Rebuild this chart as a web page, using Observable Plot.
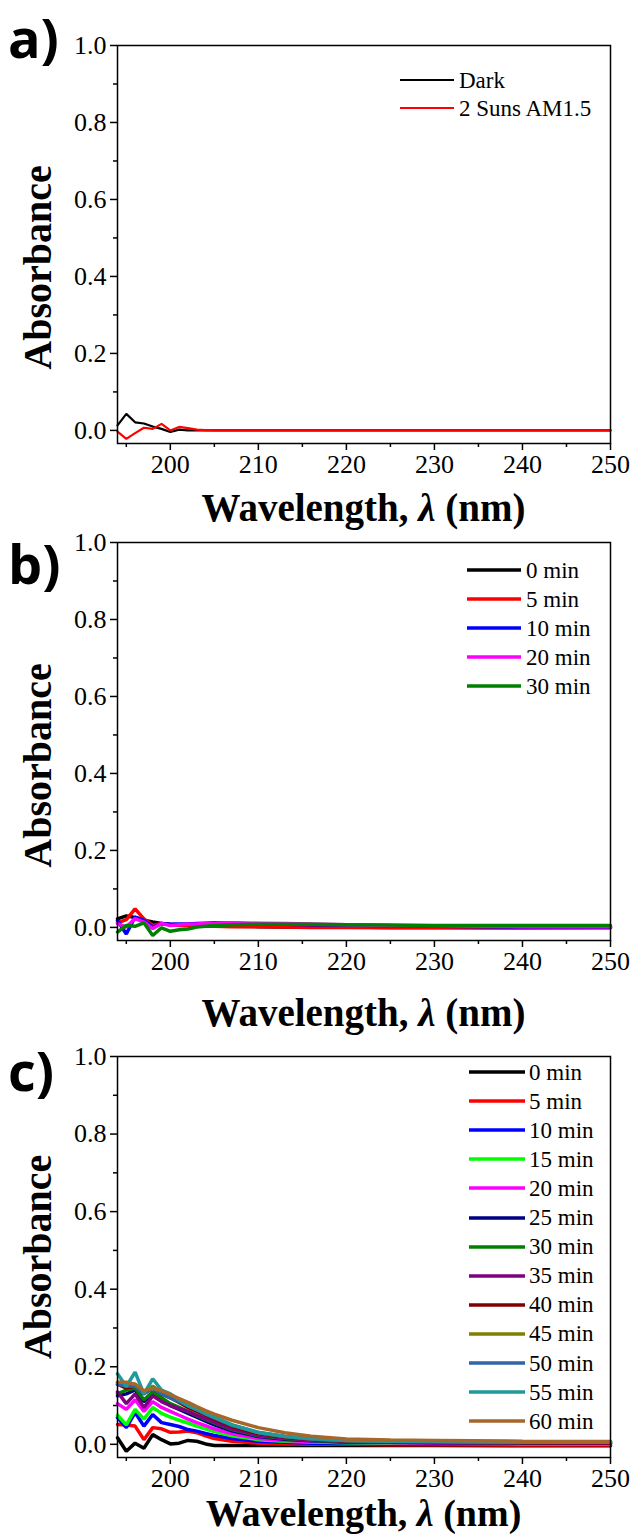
<!DOCTYPE html>
<html>
<head>
<meta charset="utf-8">
<script src="https://cdn.jsdelivr.net/npm/d3@7"></script>
<script src="https://cdn.jsdelivr.net/npm/@observablehq/plot@0.6"></script>
<style>
  body { margin: 0; background: white; }
  #wrap { position: relative; width: 632px; height: 1537px; overflow: hidden; background: white; }
  .abs { position: absolute; }
  .letter { font-family: "Open Sans", "Noto Sans", sans-serif; font-weight: 700; font-size: 54px; line-height: normal; color: black; }
  .xtitle { font-family: "Liberation Serif", "Times New Roman", serif; font-weight: 700; font-size: 39px; line-height: 1; text-align: center; color: black; white-space: nowrap; }
  .leg { font-family: "Liberation Serif", "Times New Roman", serif; font-size: 23px; line-height: 1; color: black; display: flex; align-items: center; white-space: nowrap; }
</style>
</head>
<body>
<div id="wrap"></div>
<script>
// ---------- data ----------
const wavelengths = [194,195,196,197,198,199,200,201,202,203,204,205,207,210,213,216,220,225,230,240,250];
const xMajorTicks = [200,210,220,230,240,250];
const xMinorTicks = [195,205,215,225,235,245];
const yMajorTicks = [0,0.2,0.4,0.6,0.8,1.0];
const yMinorTicks = [0.1,0.3,0.5,0.7,0.9];

// panel a
const aNames = ["Dark","2 Suns AM1.5"];
const aColors = ["#000000","#ff0000"];
const aDark = [0.013,0.043,0.021,0.018,0.010,0.004,-0.004,0.002,0.000,0.001,0,0,0,0,0,0,0,0,0,0,0];
const aSun  = [-0.003,-0.022,-0.007,0.007,0.004,0.017,0.000,0.009,0.006,0.002,0.001,0,0,0,0,0,0,0,0,0,0];

// panel b
const bNames = ["0 min","5 min","10 min","20 min","30 min"];
const bColors = ["#000000","#ff0000","#0000ff","#ff00ff","#008000"];
const b0  = [0.022,0.030,0.026,0.019,0.014,0.010,0.008,0.007,0.006,0.005,0.005,0.004,0.003,0.002,0.001,0.001,0.001,0.000,0.000,-0.001,0.000];
const b5  = [0.012,0.020,0.048,0.022,0.005,0.010,0.007,0.005,0.004,0.004,0.003,0.003,0.002,0.002,0.001,0.000,0.000,-0.001,-0.001,-0.001,-0.001];
const b10 = [0.018,-0.017,0.027,0.018,0.001,0.010,0.008,0.009,0.009,0.010,0.011,0.012,0.011,0.009,0.008,0.007,0.006,0.004,0.003,0.001,0.001];
const b20 = [0.010,0.001,0.023,0.014,-0.003,0.010,0.005,0.007,0.008,0.009,0.010,0.011,0.012,0.011,0.010,0.009,0.007,0.005,0.004,0.002,0.002];
const b30 = [-0.012,0.005,0.003,0.012,-0.021,-0.001,-0.010,-0.006,-0.004,0.001,0.003,0.005,0.007,0.008,0.008,0.008,0.007,0.006,0.005,0.005,0.005];

// panel c
const cNames = ["0 min","5 min","10 min","15 min","20 min","25 min","30 min","35 min","40 min","45 min","50 min","55 min","60 min"];
const cColors = ["#000000","#ff0000","#0000ff","#00ff00","#ff00ff","#000080","#008000","#800080","#800000","#808000","#3065a8","#1f9a9a","#a8672a"];
const c0  = [0.017,-0.018,0.003,-0.010,0.025,0.012,0.001,0.003,0.010,0.008,0.001,-0.003,-0.003,-0.003,-0.003,-0.003,-0.003,-0.003,-0.003,-0.004,-0.004];
const c5  = [0.051,0.050,0.047,0.012,0.043,0.040,0.031,0.032,0.034,0.030,0.022,0.015,0.008,0.003,0.001,0.000,0.000,-0.001,-0.001,-0.002,-0.002];
const c10 = [0.069,0.043,0.082,0.047,0.077,0.056,0.051,0.046,0.038,0.034,0.028,0.023,0.015,0.008,0.005,0.003,0.002,0.001,0.000,0.000,0.000];
const c15 = [0.075,0.050,0.090,0.065,0.095,0.080,0.070,0.062,0.055,0.047,0.040,0.033,0.022,0.012,0.008,0.006,0.004,0.003,0.002,0.001,0.001];
const c20 = [0.105,0.090,0.115,0.085,0.110,0.095,0.085,0.075,0.065,0.056,0.048,0.040,0.027,0.015,0.010,0.007,0.005,0.004,0.003,0.002,0.002];
const c25 = [0.125,0.130,0.140,0.110,0.130,0.115,0.100,0.090,0.080,0.070,0.060,0.050,0.035,0.020,0.013,0.009,0.006,0.005,0.004,0.003,0.003];
const c30 = [0.130,0.140,0.145,0.115,0.135,0.120,0.105,0.095,0.085,0.074,0.064,0.055,0.038,0.022,0.015,0.010,0.007,0.006,0.005,0.004,0.004];
const c35 = [0.135,0.105,0.130,0.095,0.125,0.110,0.100,0.092,0.085,0.075,0.066,0.057,0.040,0.024,0.016,0.011,0.008,0.006,0.005,0.004,0.003];
const c40 = [0.155,0.145,0.150,0.130,0.145,0.130,0.120,0.108,0.095,0.085,0.075,0.065,0.046,0.028,0.019,0.013,0.009,0.007,0.006,0.005,0.005];
const c45 = [0.160,0.150,0.155,0.135,0.150,0.135,0.125,0.112,0.100,0.090,0.080,0.070,0.050,0.030,0.020,0.014,0.010,0.008,0.007,0.006,0.006];
const c50 = [0.155,0.151,0.150,0.130,0.145,0.130,0.120,0.110,0.100,0.089,0.078,0.068,0.049,0.030,0.020,0.014,0.010,0.008,0.007,0.006,0.006];
const c55 = [0.182,0.149,0.186,0.130,0.169,0.140,0.130,0.115,0.100,0.090,0.080,0.070,0.050,0.031,0.021,0.015,0.010,0.008,0.007,0.006,0.006];
const c60 = [0.160,0.160,0.155,0.138,0.145,0.138,0.128,0.118,0.108,0.097,0.087,0.078,0.062,0.043,0.030,0.021,0.014,0.011,0.010,0.008,0.007];

// ---------- drawing ----------
const wrap = document.getElementById("wrap");
const serif = "'Liberation Serif', 'Times New Roman', serif";

function panel(cfg) {
  const {svgTop, frameTop, frameBottom, names, colors, series, lineWidth, absDy,
         letter, letterTop, titleCenter, titleSize, legend} = cfg;
  const height = frameBottom - svgTop + 40;
  const rows = series.flatMap((vals, si) => wavelengths.map((w, i) => ({w, a: vals[i], k: names[si]})));
  const plot = Plot.plot({
    width: 632,
    height,
    marginLeft: 117,
    marginRight: 22,
    marginTop: frameTop - svgTop,
    marginBottom: 40,
    style: {background: "transparent", fontFamily: serif, fontSize: "26px", color: "black", overflow: "visible"},
    x: {domain: [194, 250]},
    y: {domain: [-0.034, 1.0]},
    color: {domain: names, range: colors},
    marks: [
      Plot.axisX({ticks: xMajorTicks, tickSize: 7, tickPadding: 4, strokeWidth: 1.5, label: null, fontSize: 26}),
      Plot.axisX({ticks: xMinorTicks, tickSize: 4, strokeWidth: 1.5, tickFormat: () => "", label: null}),
      Plot.axisY({ticks: yMajorTicks, tickSize: 7, tickPadding: 4, strokeWidth: 1.5, tickFormat: d3.format(".1f"), label: null, fontSize: 26}),
      Plot.axisY({ticks: yMinorTicks, tickSize: 4, strokeWidth: 1.5, tickFormat: () => "", label: null}),
      Plot.line(rows, {x: "w", y: "a", z: "k", stroke: "k", strokeWidth: lineWidth, strokeLinejoin: "miter", curve: "linear"}),
      Plot.frame({stroke: "black", strokeWidth: 1.5}),
      Plot.text(["Absorbance"], {text: d => d, frameAnchor: "left", textAnchor: "middle", dx: -79, dy: absDy, rotate: -90,
        fontSize: 40, fontWeight: "bold", fontFamily: serif, fill: "black"})
    ]
  });
  plot.style.position = "absolute";
  plot.style.left = "0px";
  plot.style.top = svgTop + "px";
  wrap.appendChild(plot);

  // panel letter
  const L = document.createElement("div");
  L.className = "abs letter";
  L.style.left = "8px";
  L.style.top = letterTop + "px";
  L.textContent = letter;
  wrap.appendChild(L);

  // x title
  const T = document.createElement("div");
  T.className = "abs xtitle";
  T.style.left = "117px";
  T.style.width = "493px";
  T.style.fontSize = titleSize + "px";
  T.style.top = (titleCenter - titleSize / 2) + "px";
  T.innerHTML = "Wavelength, <i>λ</i> (nm)";
  wrap.appendChild(T);

  // legend
  names.forEach((n, i) => {
    const row = document.createElement("div");
    row.className = "abs leg";
    row.style.left = legend.x0 + "px";
    row.style.top = (legend.y0 + i * legend.dy - 12) + "px";
    row.style.height = "24px";
    const len = legend.x1 - legend.x0;
    row.innerHTML = `<svg width="${len}" height="24" style="display:block"><line x1="0" x2="${len}" y1="12" y2="12" stroke="${colors[i]}" stroke-width="${legend.sw}" stroke-linecap="round"/></svg><span style="margin-left:${legend.gap}px">${n}</span>`;
    wrap.appendChild(row);
  });
}

panel({svgTop: 0, frameTop: 45, frameBottom: 443, names: aNames, colors: aColors,
  series: [aDark, aSun], lineWidth: 2.2, absDy: 23, letter: "a)", letterTop: 0, titleCenter: 507, titleSize: 39,
  legend: {x0: 400, x1: 454, y0: 80, dy: 28, sw: 2.2, gap: 5}});

panel({svgTop: 497, frameTop: 542, frameBottom: 940, names: bNames, colors: bColors,
  series: [b0, b5, b10, b20, b30], lineWidth: 3.5, absDy: 24, letter: "b)", letterTop: 526, titleCenter: 1012, titleSize: 39,
  legend: {x0: 467, x1: 521, y0: 570, dy: 29, sw: 3.5, gap: 5}});

panel({svgTop: 1011, frameTop: 1056, frameBottom: 1457, names: cNames, colors: cColors,
  series: [c0, c5, c10, c15, c20, c25, c30, c35, c40, c45, c50, c55, c60], lineWidth: 3.5, absDy: 0, letter: "c)", letterTop: 1033, titleCenter: 1513, titleSize: 38,
  legend: {x0: 469, x1: 525, y0: 1072, dy: 29.1, sw: 3.5, gap: 4}});
</script>
</body>
</html>
